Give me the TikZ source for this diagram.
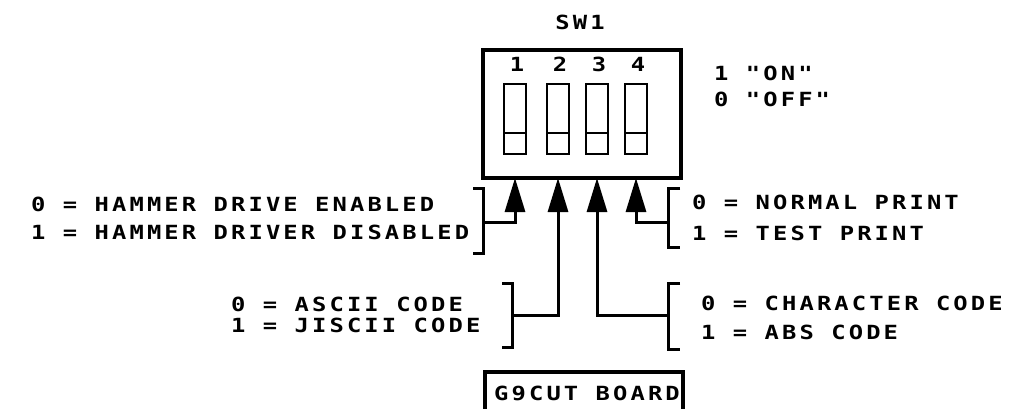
\documentclass[tikz,border=0pt]{standalone}
\usepackage{fontspec}
\newfontfamily\plotfont[LetterSpace=16, FakeStretch=1.22]{DejaVu Sans Mono Bold}
\usetikzlibrary{arrows.meta}

\begin{document}
\begin{tikzpicture}[x=1pt, y=-1pt,
        txt/.style={font=\plotfont\fontsize{19.5}{20}\selectfont, inner sep=0pt, anchor=west},
        ctxt/.style={txt, anchor=center},
        frame/.style={line width=3.2pt},
        lever/.style={line width=2.8pt},
        brk/.style={line width=3pt},
        feed/.style={line width=3pt, -{Triangle[length=34pt, width=20pt]}}]

        \useasboundingbox (0,0) rectangle (1032,408);

        %% ── Boîtier SW1 ───────────────────────────────────────────────────
        \node[ctxt] (swname) at (580,22) {SW1};
        \draw[frame] (483,50) rectangle (681,178);
        \foreach \x/\n in {515/1, 558/2, 597/3, 636/4} {
            \node[ctxt] (num\n) at (\x+2,64) {\n};
            \draw[lever] (\x-11,84) rectangle (\x+11,154);
            \draw[lever] (\x-11,133) -- (\x+11,133);
            \coordinate (tip\n) at (\x,178);
        }
        \node[txt] (on)  at (714,73) {1 "ON"};
        \node[txt] (off) at (714,99) {0 "OFF"};

        %% ── Accolades et flèches ──────────────────────────────────────────
        \draw[brk] (473,188) -- (483,188) -- (483,253) -- (473,253);
        \draw[brk] (502,283) -- (512,283) -- (512,347) -- (502,347);
        \draw[brk] (680,188) -- (668,188) -- (668,247) -- (680,247);
        \draw[brk] (680,283) -- (668,283) -- (668,349) -- (680,349);
        \coordinate (br1) at (483,222);
        \coordinate (br2) at (512,315);
        \coordinate (br3) at (668,315);
        \coordinate (br4) at (668,222);
        \foreach \n in {1,2,3,4}
            \draw[feed] (br\n) -| (tip\n);

        %% ── Textes ────────────────────────────────────────────────────────
        \node[txt] (ham0) at (31,204) {0 = HAMMER DRIVE ENABLED};
        \node[txt] (ham1) at (31,232) {1 = HAMMER DRIVER DISABLED};
        \node[txt] (asc0) at (231,304) {0 = ASCII CODE};
        \node[txt] (asc1) at (231,325) {1 = JISCII CODE};
        \node[txt] (prt0) at (692,202) {0 = NORMAL PRINT};
        \node[txt] (prt1) at (692,233) {1 = TEST PRINT};
        \node[txt] (chr0) at (701,303) {0 = CHARACTER CODE};
        \node[txt] (chr1) at (701,332) {1 = ABS CODE};

        %% ── Carte G9CUT ───────────────────────────────────────────────────
        \draw[frame] (485,410) -- (485,372) -- (683,372) -- (683,410);
        \node[ctxt] (board) at (587,393) {G9CUT BOARD};

    \end{tikzpicture}
\end{document}
